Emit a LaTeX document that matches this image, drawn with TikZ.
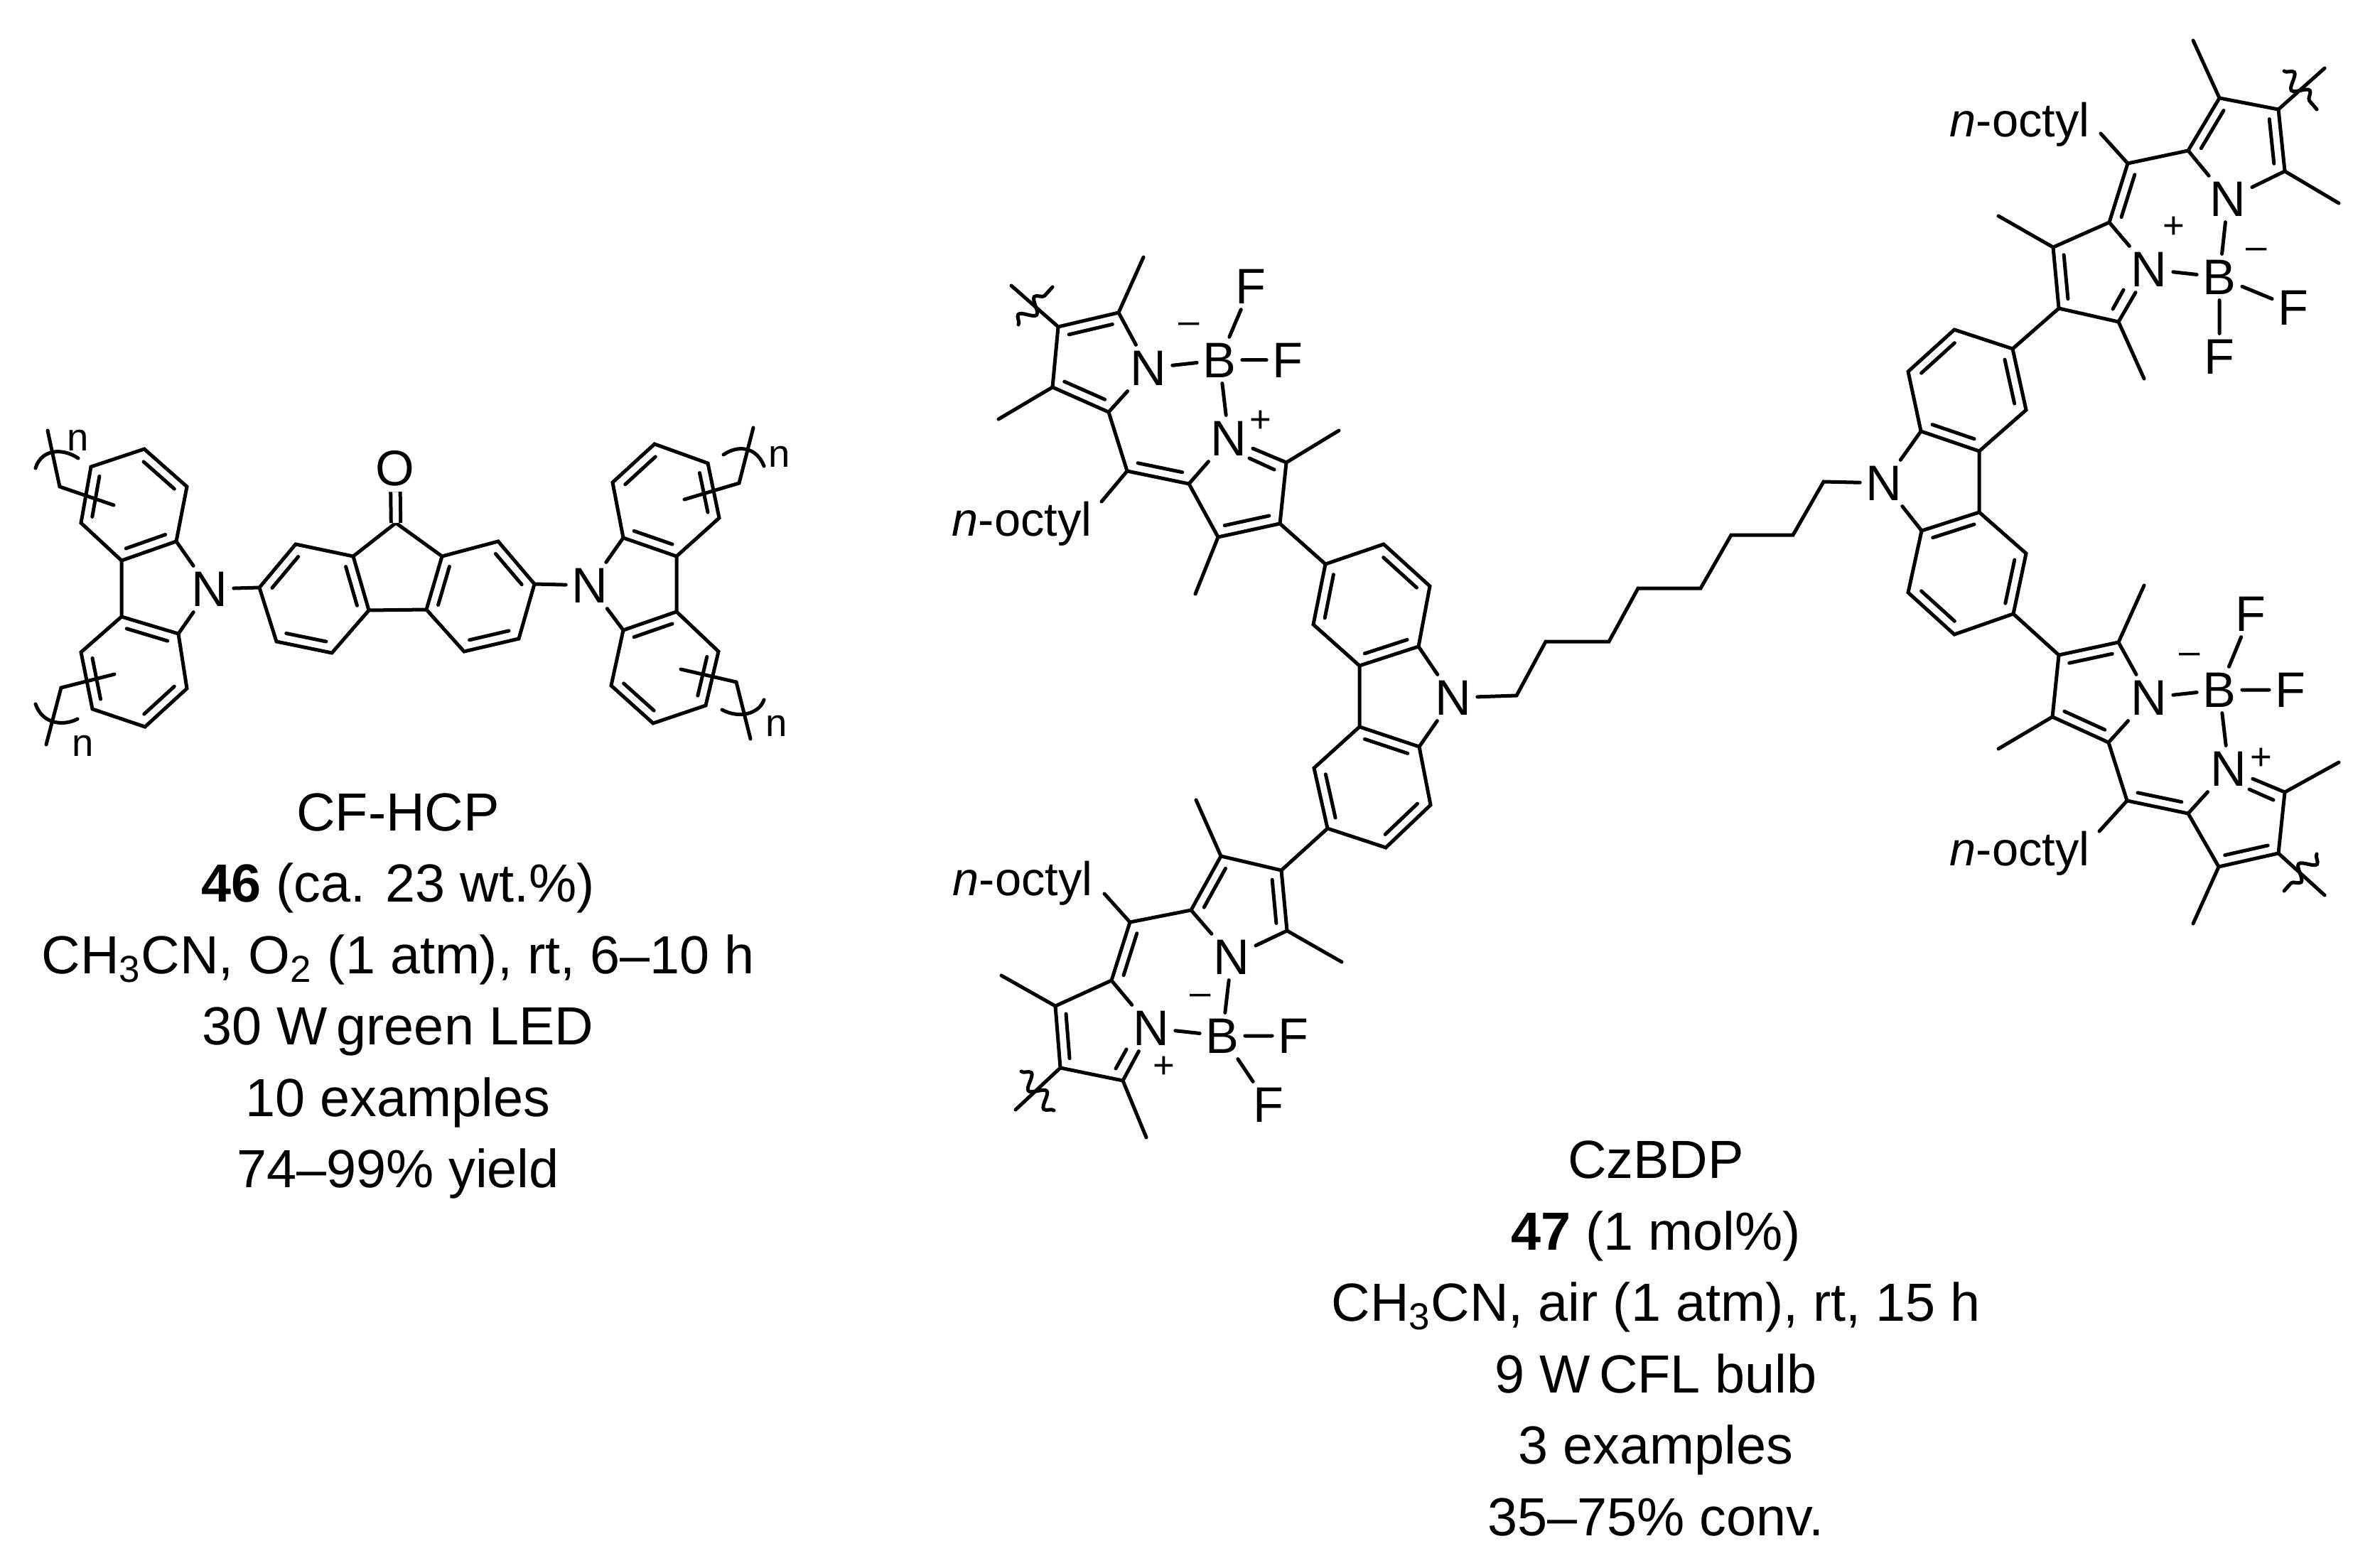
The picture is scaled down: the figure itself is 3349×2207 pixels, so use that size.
\documentclass[tikz,border=0pt]{standalone}
\usepackage{fontspec}
\setmainfont{Liberation Sans}
\usetikzlibrary{calc,decorations.pathmorphing}
\tikzset{
  bond/.style={line width=0.5mm,line cap=round,line join=miter},
  atom/.style={font=\fontsize{20}{20}\selectfont,inner sep=2.2pt},
  charge/.style={font=\fontsize{15}{15}\selectfont,inner sep=0pt},
  rpt/.style={font=\fontsize{15.5}{15.5}\selectfont,inner sep=0pt},
  octyl/.style={font=\fontsize{19}{19}\selectfont,inner sep=0pt,anchor=base},
  caption/.style={font=\fontsize{21.5}{28.6}\selectfont,align=center,inner sep=0pt},
  cut/.style={bond,decorate,decoration={snake,amplitude=2.8pt,segment length=9.6pt}}
}
% inner line of a double bond: #3 > 0 lies left of the walk from #1 to #2
\newcommand{\dbl}[3]{\draw[bond] ($(#1)!.14!(#2)!#3!90:(#2)$) -- ($(#2)!.14!(#1)!#3!-90:(#1)$);}
\begin{document}
\begin{tikzpicture}[x=0.1mm,y=-0.1mm]
\useasboundingbox (0,0) rectangle (3349,2207);

% CF-HCP, fluorenone
\coordinate (fa) at (557,736); \coordinate (fb) at (497,783); \coordinate (fc) at (519,859);
\coordinate (fd) at (600,858); \coordinate (fe) at (622,783); \coordinate (fg) at (416,766);
\coordinate (fh) at (365,827); \coordinate (fi) at (389,903); \coordinate (fj) at (467,919);
\coordinate (fk) at (701,762); \coordinate (fl) at (752,822); \coordinate (fm) at (730,899);
\coordinate (fn) at (653,917);
\node[atom] (oa) at (556,659) {O};
\draw[bond] (fa) -- (fb) -- (fc) -- (fd) -- (fe) -- (fa);
\draw[bond] (fb) -- (fg) -- (fh) -- (fi) -- (fj) -- (fc);
\draw[bond] (fe) -- (fk) -- (fl) -- (fm) -- (fn) -- (fd);
\draw[line width=0.5mm,double,double distance=2.4pt] (oa) -- (fa);
\dbl{fb}{fc}{-4pt} \dbl{fg}{fh}{4pt} \dbl{fi}{fj}{4pt}
\dbl{fe}{fd}{4pt} \dbl{fk}{fl}{-4pt} \dbl{fn}{fm}{4pt}

% CF-HCP, left carbazole
\node[atom] (la) at (295,829) {N};
\coordinate (lb) at (248,762); \coordinate (lc) at (171,789); \coordinate (ld) at (171,868);
\coordinate (le) at (251,892); \coordinate (lf) at (263,685); \coordinate (lg) at (203,632);
\coordinate (lh) at (128,657); \coordinate (li) at (114,736); \coordinate (lj) at (114,918);
\coordinate (lk) at (130,998); \coordinate (ll) at (204,1023); \coordinate (lm) at (263,969);
\draw[bond] (la) -- (lb) -- (lf) -- (lg) -- (lh) -- (li) -- (lc) -- (lb);
\draw[bond] (lc) -- (ld) -- (lj) -- (lk) -- (ll) -- (lm) -- (le) -- (ld);
\draw[bond] (le) -- (la);
\draw[bond] (la) -- (fh);
\dbl{lc}{lb}{4pt} \dbl{lh}{li}{4pt} \dbl{lg}{lf}{-4pt}
\dbl{ld}{le}{-4pt} \dbl{lj}{lk}{4pt} \dbl{ll}{lm}{4pt}

% CF-HCP, right carbazole
\node[atom] (ra) at (830,824) {N};
\coordinate (rb) at (877,757); \coordinate (rc) at (952,783); \coordinate (rd) at (952,861);
\coordinate (re) at (877,887); \coordinate (rf) at (1012,729); \coordinate (rg) at (996,652);
\coordinate (rh) at (921,625); \coordinate (ri) at (862,679); \coordinate (rj) at (1011,917);
\coordinate (rk) at (993,993); \coordinate (rl) at (919,1018); \coordinate (rm) at (860,965);
\draw[bond] (ra) -- (rb) -- (ri) -- (rh) -- (rg) -- (rf) -- (rc) -- (rb);
\draw[bond] (rc) -- (rd) -- (rj) -- (rk) -- (rl) -- (rm) -- (re) -- (rd);
\draw[bond] (re) -- (ra);
\draw[bond] (fl) -- (ra);
\dbl{rb}{rc}{4pt} \dbl{rf}{rg}{4pt} \dbl{rh}{ri}{4pt}
\dbl{re}{rd}{-4pt} \dbl{rj}{rk}{-4pt} \dbl{rl}{rm}{-4pt}

% CF-HCP, polymer ends
\coordinate (ta) at (67,606); \coordinate (tb) at (84,685); \coordinate (tc) at (160,711);
\coordinate (ua) at (65,1048); \coordinate (ub) at (86,968); \coordinate (uc) at (161,949);
\coordinate (va) at (1060,602); \coordinate (vb) at (1040,680); \coordinate (vc) at (963,703);
\coordinate (wa) at (1056,1040); \coordinate (wb) at (1036,960); \coordinate (wc) at (958,942);
\draw[bond] (ta) -- (tb) -- (tc);
\draw[bond] (ua) -- (ub) -- (uc);
\draw[bond] (va) -- (vb) -- (vc);
\draw[bond] (wa) -- (wb) -- (wc);
\draw[bond] (50,659) .. controls (58,632) and (88,630) .. (110,645);
\draw[bond] (50,991) .. controls (60,1020) and (90,1022) .. (109,1012);
\draw[bond] (1018,640) .. controls (1040,625) and (1065,630) .. (1075,656);
\draw[bond] (1016,999) .. controls (1040,1012) and (1068,1005) .. (1075,985);
\node[rpt] (na) at (110,620) {n};
\node[rpt] (nb) at (117,1050) {n};
\node[rpt] (nc) at (1097,643) {n};
\node[rpt] (nd) at (1093,1022) {n};

% CzBDP, upper left BODIPY
\coordinate (aa) at (1489,460); \coordinate (ab) at (1574,440); \coordinate (ac) at (1481,545);
\coordinate (ad) at (1560,580); \coordinate (ae) at (1586,663); \coordinate (ag) at (1673,681);
\coordinate (ah) at (1810,651); \coordinate (ai) at (1801,737); \coordinate (aj) at (1714,756);
\node[atom] (an) at (1616,518) {N};
\node[atom] (ax) at (1716,507) {B};
\node[atom] (afa) at (1760,403) {F};
\node[atom] (afb) at (1812,507) {F};
\node[atom] (ap) at (1729,617) {N};
\node[charge] (ama) at (1673,462) {–};
\node[charge] (apa) at (1774,593) {+};
\draw[bond] (ac) -- (aa) -- (ab) -- (an) -- (ad) -- (ac);
\draw[bond] (ad) -- (ae) -- (ag) -- (aj) -- (ai) -- (ah) -- (ap) -- (ag);
\draw[bond] (an) -- (ax) -- (afa);
\draw[bond] (ax) -- (afb);
\draw[bond] (ax) -- (ap);
\dbl{aa}{ab}{-4pt} \dbl{ac}{ad}{4pt} \dbl{ae}{ag}{4pt} \dbl{aj}{ai}{4pt}
\draw[bond] (1793,661) -- (1758,645);
\coordinate (aq) at (1609,362); \coordinate (ar) at (1423,402); \coordinate (as) at (1405,590);
\coordinate (at) at (1884,606); \coordinate (au) at (1682,836); \coordinate (av) at (1550,706);
\draw[bond] (ab) -- (aq);
\draw[bond] (aa) -- (ar);
\draw[bond] (ac) -- (as);
\draw[bond] (ah) -- (at);
\draw[bond] (aj) -- (au);
\draw[bond] (ae) -- (av);
\draw[cut] (1433,457) -- (1481,404);
\node[octyl] (ao) at (1438,754) {\textit{n}-octyl};

% CzBDP, left carbazole
\coordinate (ca) at (1865,794); \coordinate (cb) at (1947,766); \coordinate (cc) at (2012,825);
\coordinate (cd) at (1996,910); \coordinate (ce) at (1913,937); \coordinate (cf) at (1848,879);
\coordinate (cg) at (1913,1023); \coordinate (ch) at (1849,1081); \coordinate (ci) at (1868,1166);
\coordinate (cj) at (1950,1193); \coordinate (ck) at (2013,1133); \coordinate (cl) at (1997,1051);
\node[atom] (cn) at (2045,982) {N};
\draw[bond] (ai) -- (ca) -- (cb) -- (cc) -- (cd) -- (ce) -- (cf) -- (ca);
\draw[bond] (ce) -- (cg) -- (ch) -- (ci) -- (cj) -- (ck) -- (cl) -- (cg);
\draw[bond] (cd) -- (cn);
\draw[bond] (cl) -- (cn);
\dbl{ca}{cf}{4pt} \dbl{cb}{cc}{-4pt} \dbl{cd}{ce}{-4pt}
\dbl{cg}{cl}{-4pt} \dbl{ch}{ci}{4pt} \dbl{cj}{ck}{4pt}

% CzBDP, lower left BODIPY
\coordinate (ba) at (1803,1225); \coordinate (bb) at (1718,1205); \coordinate (bc) at (1676,1281);
\coordinate (bd) at (1811,1310); \coordinate (be) at (1590,1298); \coordinate (bf) at (1564,1380);
\coordinate (bg) at (1485,1416); \coordinate (bh) at (1492,1503); \coordinate (bi) at (1580,1521);
\node[atom] (bn) at (1733,1347) {N};
\node[atom] (bp) at (1620,1447) {N};
\node[atom] (bx) at (1720,1458) {B};
\node[atom] (bfa) at (1820,1458) {F};
\node[atom] (bfb) at (1785,1555) {F};
\node[charge] (bma) at (1689,1407) {–};
\node[charge] (bpa) at (1638,1502) {+};
\draw[bond] (ci) -- (ba) -- (bb) -- (bc) -- (be) -- (bf) -- (bg) -- (bh) -- (bi) -- (bp) -- (bf);
\draw[bond] (ba) -- (bd) -- (bn) -- (bc);
\draw[bond] (bn) -- (bx) -- (bfa);
\draw[bond] (bp) -- (bx) -- (bfb);
\dbl{bb}{bc}{4pt} \dbl{ba}{bd}{-4pt} \dbl{be}{bf}{4pt} \dbl{bg}{bh}{4pt}
\draw[bond] (1570,1504) -- (1585,1477);
\coordinate (bq) at (1683,1126); \coordinate (br) at (1888,1354); \coordinate (bs) at (1409,1373);
\coordinate (bt) at (1613,1601); \coordinate (bu) at (1429,1562); \coordinate (bv) at (1554,1258);
\draw[bond] (bb) -- (bq);
\draw[bond] (bd) -- (br);
\draw[bond] (bg) -- (bs);
\draw[bond] (bi) -- (bt);
\draw[bond] (bh) -- (bu);
\draw[bond] (be) -- (bv);
\draw[cut] (1437,1508) -- (1483,1563);
\node[octyl] (bo) at (1439,1260) {\textit{n}-octyl};

% CzBDP, octyl linker
\coordinate (ha) at (2134,979); \coordinate (hb) at (2175,903); \coordinate (hc) at (2264,903);
\coordinate (hd) at (2305,828); \coordinate (he) at (2393,828); \coordinate (hf) at (2436,753);
\coordinate (hg) at (2523,753); \coordinate (hh) at (2566,678);
\node[atom] (en) at (2651,680) {N};
\draw[bond] (cn) -- (ha) -- (hb) -- (hc) -- (hd) -- (he) -- (hf) -- (hg) -- (hh) -- (en);

% CzBDP, right carbazole
\coordinate (ea) at (2832,491); \coordinate (eb) at (2750,464); \coordinate (ec) at (2685,523);
\coordinate (ed) at (2703,607); \coordinate (ee) at (2785,635); \coordinate (ef) at (2851,577);
\coordinate (eg) at (2785,721); \coordinate (eh) at (2704,747); \coordinate (ei) at (2685,834);
\coordinate (ej) at (2750,893); \coordinate (ek) at (2833,864); \coordinate (el) at (2851,779);
\draw[bond] (ea) -- (eb) -- (ec) -- (ed) -- (ee) -- (ef) -- (ea);
\draw[bond] (ee) -- (eg) -- (eh) -- (ei) -- (ej) -- (ek) -- (el) -- (eg);
\draw[bond] (ed) -- (en);
\draw[bond] (eh) -- (en);
\dbl{ea}{ef}{-4pt} \dbl{eb}{ec}{4pt} \dbl{ed}{ee}{4pt}
\dbl{eg}{eh}{4pt} \dbl{ei}{ej}{4pt} \dbl{ek}{el}{4pt}

% CzBDP, upper right BODIPY
\coordinate (da) at (3123,138); \coordinate (db) at (3206,154); \coordinate (dc) at (3079,212);
\coordinate (dd) at (3215,241); \coordinate (de) at (2994,230); \coordinate (df) at (2968,313);
\coordinate (dg) at (2889,348); \coordinate (dh) at (2897,434); \coordinate (di) at (2981,453);
\node[atom] (dn) at (3135,280) {N};
\node[atom] (dp) at (3024,379) {N};
\node[atom] (dx) at (3123,390) {B};
\node[atom] (dfa) at (3227,433) {F};
\node[atom] (dfb) at (3123,502) {F};
\node[charge] (dma) at (3175,357) {–};
\node[charge] (dpa) at (3059,320) {+};
\draw[bond] (ea) -- (dh) -- (dg) -- (df) -- (de) -- (dc) -- (da) -- (db) -- (dd) -- (dn) -- (dc);
\draw[bond] (dh) -- (di) -- (dp) -- (df);
\draw[bond] (dn) -- (dx) -- (dfa);
\draw[bond] (dp) -- (dx) -- (dfb);
\dbl{dc}{da}{-4pt} \dbl{db}{dd}{-4pt} \dbl{de}{df}{4pt} \dbl{dg}{dh}{4pt}
\draw[bond] (2973,435) -- (2988,408);
\coordinate (dq) at (3086,57); \coordinate (dr) at (3291,286); \coordinate (ds) at (2812,304);
\coordinate (dt) at (3017,533); \coordinate (du) at (3271,96); \coordinate (dv) at (2956,188);
\draw[bond] (da) -- (dq);
\draw[bond] (dd) -- (dr);
\draw[bond] (dg) -- (ds);
\draw[bond] (di) -- (dt);
\draw[bond] (db) -- (du);
\draw[bond] (de) -- (dv);
\draw[cut] (3214,100) -- (3260,154);
\node[octyl] (do) at (2842,193) {\textit{n}-octyl};

% CzBDP, lower right BODIPY
\coordinate (ga) at (2897,922); \coordinate (gb) at (2981,904); \coordinate (gc) at (2888,1009);
\coordinate (gd) at (2967,1045); \coordinate (ge) at (2993,1127); \coordinate (gf) at (3079,1145);
\coordinate (gh) at (3215,1115); \coordinate (gi) at (3206,1201); \coordinate (gj) at (3122,1220);
\node[atom] (gn) at (3024,982) {N};
\node[atom] (gp) at (3136,1082) {N};
\node[atom] (gx) at (3123,971) {B};
\node[atom] (gfa) at (3167,864) {F};
\node[atom] (gfb) at (3223,971) {F};
\node[charge] (gma) at (3081,927) {–};
\node[charge] (gpa) at (3182,1068) {+};
\draw[bond] (ek) -- (ga) -- (gb) -- (gn) -- (gd) -- (gc) -- (ga);
\draw[bond] (gd) -- (ge) -- (gf) -- (gj) -- (gi) -- (gh) -- (gp) -- (gf);
\draw[bond] (gn) -- (gx) -- (gfa);
\draw[bond] (gp) -- (gx) -- (gfb);
\dbl{ga}{gb}{-4pt} \dbl{gc}{gd}{4pt} \dbl{ge}{gf}{4pt} \dbl{gj}{gi}{4pt}
\draw[bond] (3199,1126) -- (3165,1111);
\coordinate (gq) at (3017,824); \coordinate (gr) at (2812,1054); \coordinate (gs) at (3291,1073);
\coordinate (gt) at (3086,1300); \coordinate (gu) at (3271,1260); \coordinate (gv) at (2954,1170);
\draw[bond] (gb) -- (gq);
\draw[bond] (gc) -- (gr);
\draw[bond] (gh) -- (gs);
\draw[bond] (gj) -- (gt);
\draw[bond] (gi) -- (gu);
\draw[bond] (ge) -- (gv);
\draw[cut] (3260,1202) -- (3214,1254);
\node[octyl] (go) at (2842,1218) {\textit{n}-octyl};

% captions
\node[caption] (cfhcp) at (560,1402) {CF-HCP\\ \textbf{46} (ca. 23 wt.\%)\\ CH\textsubscript{3}CN, O\textsubscript{2} (1 atm), rt, 6–10 h\\ 30 W\,green LED\\ 10 examples\\ 74–99\% yield};
\node[caption] (czbdp) at (2330,1884) {CzBDP\\ \textbf{47} (1 mol\%)\\ CH\textsubscript{3}CN, air (1 atm), rt, 15 h\\ 9 W\,CFL bulb\\ 3 examples\\ 35–75\% conv.};
\end{tikzpicture}
\end{document}
